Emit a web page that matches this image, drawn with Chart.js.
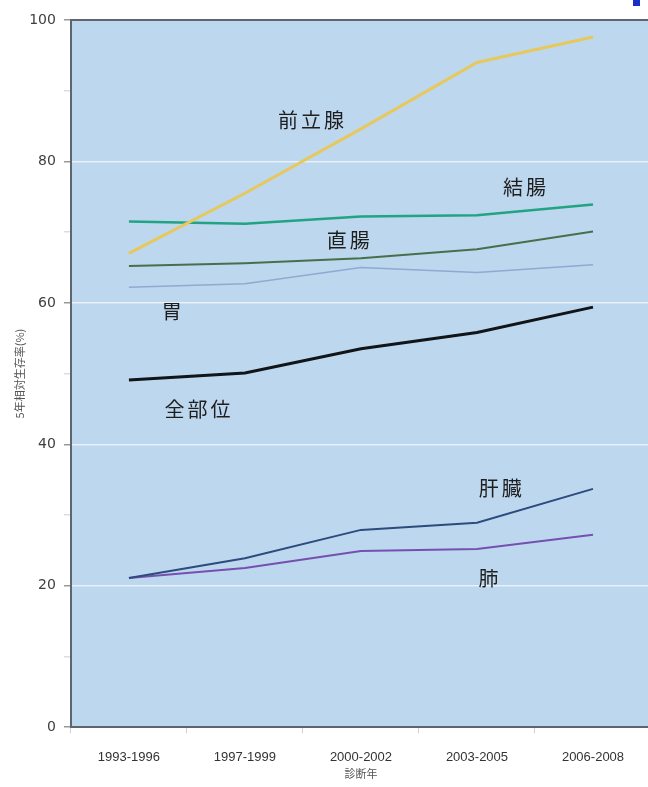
<!DOCTYPE html>
<html lang="ja">
<head>
<meta charset="utf-8">
<title>5年相対生存率の推移</title>
<script src="https://cdn.jsdelivr.net/npm/chart.js@4.4.1/dist/chart.umd.min.js"></script>
<style>
  html, body { margin: 0; padding: 0; background: #ffffff; overflow: hidden; }
  #wrap { position: relative; width: 652px; height: 787px; }
</style>
</head>
<body>
<div id="wrap"><canvas id="chart"></canvas></div>
<script>
// Diagnosis periods (x axis)
const periods = ['1993-1996', '1997-1999', '2000-2002', '2003-2005', '2006-2008'];

// 5-year relative survival (%) by site
const prostate = [67.0, 75.5, 84.6, 94.0, 97.6];   // 前立腺
const colon    = [71.5, 71.2, 72.2, 72.4, 73.9];   // 結腸
const rectum   = [65.2, 65.6, 66.3, 67.6, 70.1];   // 直腸
const stomach  = [62.2, 62.7, 65.0, 64.3, 65.4];   // 胃
const allSites = [49.1, 50.1, 53.5, 55.8, 59.4];   // 全部位
const liver    = [21.1, 23.9, 27.9, 28.9, 33.7];   // 肝臓
const lung     = [21.1, 22.5, 24.9, 25.2, 27.2];   // 肺

// Site names and where each name sits (category position, value)
const siteNames = ['前立腺', '結腸', '直腸', '胃', '全部位', '肝臓', '肺'];
const namePos   = [[1.57, 85.8], [3.41, 76.3], [1.89, 68.8], [0.37, 58.8], [0.59, 45.0], [3.20, 33.7], [3.10, 21.0]];

// Y axis ticks
const yMin = 0, yMax = 100, yStep = 10, yLabelStep = 20;

const CJK = '"Noto Sans CJK JP", "Noto Sans", sans-serif';
const LATIN = '"Liberation Sans", Arial, sans-serif';

// Plot-area background, top frame line and the site names
const plotDecor = {
  id: 'plotDecor',
  beforeDraw(chart) {
    const { ctx, chartArea: a } = chart;
    ctx.save();
    ctx.fillStyle = '#bdd7ee';
    ctx.fillRect(a.left, a.top, a.right - a.left, a.bottom - a.top);
    ctx.restore();
  },
  afterDatasetsDraw(chart) {
    const { ctx, chartArea: a, scales } = chart;
    ctx.save();
    // top frame
    ctx.strokeStyle = '#5d6670';
    ctx.lineWidth = 2;
    ctx.beginPath();
    ctx.moveTo(a.left, a.top);
    ctx.lineTo(a.right, a.top);
    ctx.stroke();
    // site names
    ctx.fillStyle = '#1e1e1e';
    ctx.font = '20px ' + CJK;
    if ('letterSpacing' in ctx) ctx.letterSpacing = '3px';
    ctx.textAlign = 'center';
    ctx.textBaseline = 'middle';
    siteNames.forEach((name, i) => {
      const [cx, v] = namePos[i];
      ctx.fillText(name, scales.x.getPixelForValue(cx) + 1.5, scales.y.getPixelForValue(v));
    });
    if ('letterSpacing' in ctx) ctx.letterSpacing = '0px';
    // small blue corner mark
    ctx.fillStyle = '#1a2fc8';
    ctx.fillRect(chart.width - 19, 0, 7, 6);
    ctx.restore();
  }
};

function series(label, data, color, width) {
  return {
    label, data,
    borderColor: color,
    backgroundColor: color,
    borderWidth: width,
    pointRadius: 0,
    pointHoverRadius: 0,
    tension: 0,
    fill: false
  };
}

new Chart(document.getElementById('chart'), {
  type: 'line',
  data: {
    labels: periods,
    datasets: [
      series('前立腺', prostate, '#e6c85c', 3),
      series('結腸',   colon,    '#22a383', 2.5),
      series('直腸',   rectum,   '#46704b', 2),
      series('胃',     stomach,  '#8fa9d2', 1.6),
      series('全部位', allSites, '#111418', 3),
      series('肝臓',   liver,    '#2d4b7c', 2),
      series('肺',     lung,     '#7650b0', 2)
    ]
  },
  plugins: [plotDecor],
  options: {
    responsive: true,
    maintainAspectRatio: false,
    animation: false,
    events: [],
    layout: { padding: { top: 20, right: 1, bottom: 7, left: 0 } },
    plugins: {
      legend: { display: false },
      tooltip: { enabled: false }
    },
    scales: {
      x: {
        type: 'category',
        offset: true,
        grid: {
          offset: true,
          drawOnChartArea: false,
          drawTicks: true,
          tickLength: 6,
          tickColor: 'rgba(120,120,120,0.35)'
        },
        border: { color: '#5d6670', width: 2 },
        ticks: {
          color: '#333333',
          font: { family: LATIN, size: 13 },
          padding: 16,
          maxRotation: 0
        },
        title: {
          display: true,
          text: '診断年',
          color: '#555555',
          font: { family: CJK, size: 11 },
          padding: { top: -14, bottom: 0 }
        }
      },
      y: {
        min: yMin,
        max: yMax,
        ticks: {
          stepSize: yStep,
          color: '#404040',
          font: { family: '"DejaVu Sans", sans-serif', size: 14 },
          padding: 8,
          callback: (v) => (v % yLabelStep === 0 ? v : '')
        },
        grid: {
          tickLength: 7,
          color: (c) => (c.tick && c.tick.value % yLabelStep === 0 && c.tick.value !== yMin && c.tick.value !== yMax
            ? 'rgba(255,255,255,0.65)' : 'rgba(0,0,0,0)'),
          tickColor: (c) => (c.tick && c.tick.value % yLabelStep === 0 ? 'rgba(110,110,110,0.7)' : 'rgba(120,120,120,0.25)'),
          lineWidth: 1.5
        },
        border: { color: '#5d6670', width: 2 },
        title: {
          display: true,
          text: '5年相対生存率(%)',
          color: '#555555',
          font: { family: CJK, size: 11 },
          padding: { top: 13, bottom: -5 }
        }
      }
    }
  }
});
</script>
</body>
</html>
